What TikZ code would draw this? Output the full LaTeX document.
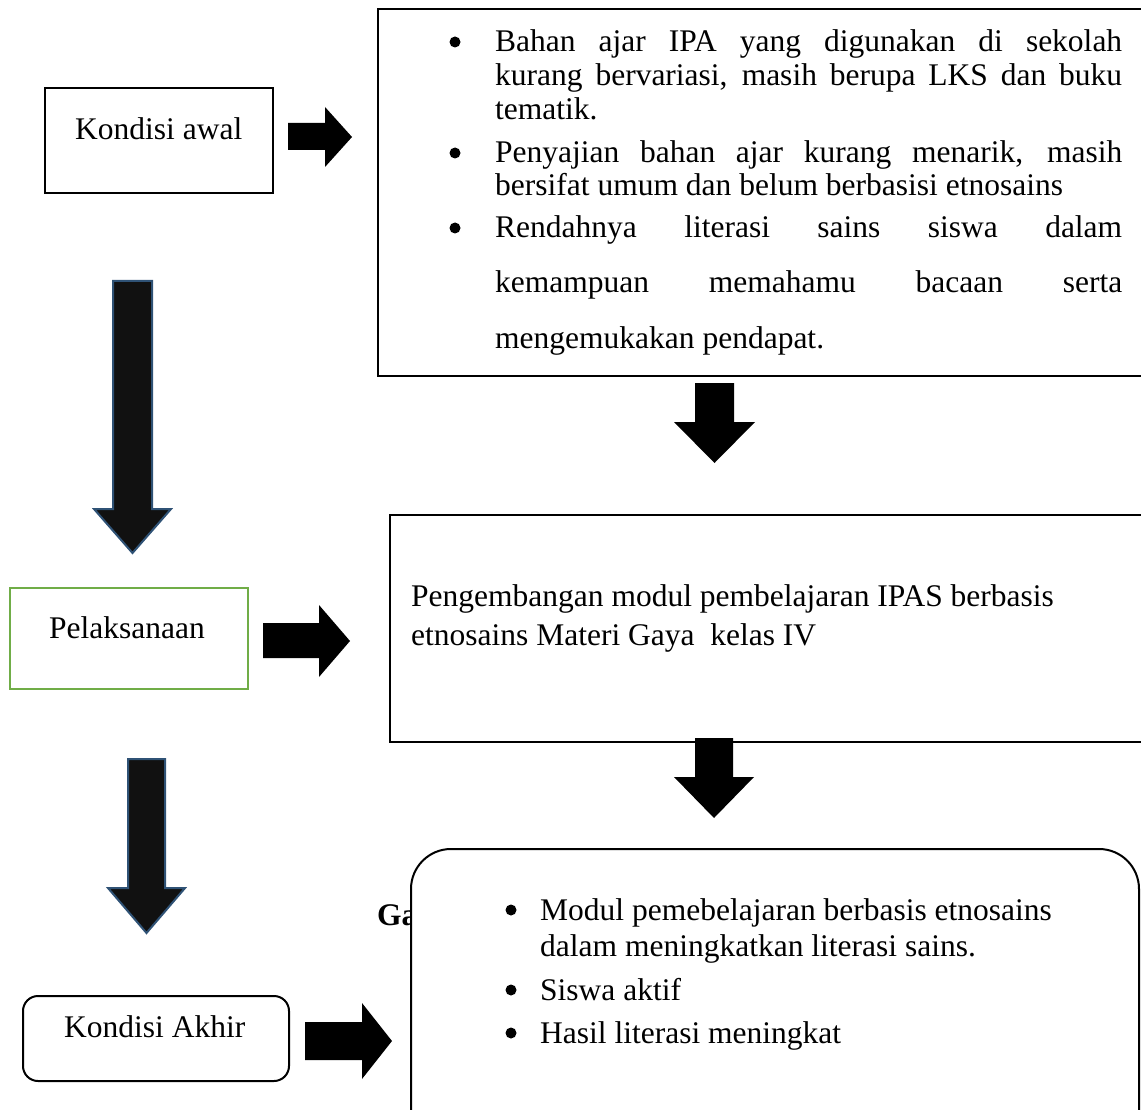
\documentclass[tikz,border=0pt]{standalone}
\usepackage{fontspec}
\setmainfont{Liberation Serif}
\definecolor{arrowfill}{HTML}{111111}
\definecolor{arrowedge}{HTML}{2F5275}
\definecolor{boxgreen}{HTML}{70AD47}
\newcommand\bigtxt{\fontsize{31.5}{34}\selectfont}
\tikzset{
  frame/.style={draw=black, line width=2pt, fill=white, inner sep=0pt, anchor=north west},
  txt/.style={font=\bigtxt, inner sep=0pt, anchor=base west},
  bul/.style={circle, fill=black, inner sep=0pt, minimum size=11pt},
  blockarrow/.style={fill=black},
  bigarrow/.style={fill=arrowfill, draw=arrowedge, line width=2pt, line join=miter},
}
\begin{document}
\begin{tikzpicture}[x=1pt,y=-1pt]
\useasboundingbox (0,0) rectangle (1141,1110);
\clip (0,0) rectangle (1141,1110);

% ---------- left column boxes ----------
\node[frame, minimum width=228pt, minimum height=105pt] (awal) at (44,87) {};
\node[txt] (awalt) at (75,140) {Kondisi awal};

\node[frame, draw=boxgreen, minimum width=238pt, minimum height=101pt] (pel) at (9,587) {};
\node[txt] (pelt) at (49,638) {Pelaksanaan};

\node[frame, rounded corners=15pt, minimum width=266pt, minimum height=85pt] (akhir) at (22,995) {};
\node[txt] (akhirt) at (64,1037) {Kondisi Akhir};

% ---------- top right box ----------
\node[frame, line width=2.4pt, minimum width=790pt, minimum height=367pt] (top) at (377,8) {};
\node[bul] (b1) at (455,42) {};
\node[txt] (t1) at (495,52) {\makebox[627pt][s]{Bahan ajar IPA yang digunakan di sekolah}};
\node[txt] (t2) at (495,86) {\makebox[627pt][s]{kurang bervariasi, masih berupa LKS dan buku}};
\node[txt] (t3) at (495,120) {tematik.};
\node[bul] (b2) at (455,153) {};
\node[txt] (t4) at (495,163) {\makebox[627pt][s]{Penyajian bahan ajar kurang menarik, masih}};
\node[txt] (t5) at (495,196) {bersifat umum dan belum berbasisi etnosains};
\node[bul] (b3) at (455,228) {};
\node[txt] (t6) at (495,238) {\makebox[627pt][s]{Rendahnya literasi sains siswa dalam}};
\node[txt] (t7) at (495,292) {\makebox[627pt][s]{kemampuan memahamu bacaan serta}};
\node[txt] (t8) at (495,348) {mengemukakan pendapat.};

% ---------- middle right box ----------
\node[frame, minimum width=780pt, minimum height=227pt] (mid) at (389,514) {};
\node[txt] (m1) at (411,606) {Pengembangan modul pembelajaran IPAS berbasis};
\node[txt] (m2) at (411,645) {etnosains Materi Gaya\ \ kelas IV};

% ---------- caption fragment behind bottom box ----------
\node[txt, font=\bigtxt\bfseries] (ga) at (377,925) {Ga};

% ---------- bottom right box ----------
\node[frame, rounded corners=40pt, minimum width=728pt, minimum height=320pt] (bot) at (410,848) {};
\node[bul] (c1) at (511,910) {};
\node[txt] (u1) at (540,920) {Modul pemebelajaran berbasis etnosains};
\node[txt] (u2) at (540,956) {dalam meningkatkan literasi sains.};
\node[bul] (c2) at (511,990) {};
\node[txt] (u3) at (540,1000) {Siswa aktif};
\node[bul] (c3) at (511,1033) {};
\node[txt] (u4) at (540,1043) {Hasil literasi meningkat};

% ---------- block arrows ----------
% right arrows
\fill[blockarrow] (288,123) -- (325,123) -- (325,107) -- (352,137) -- (325,167) -- (325,150) -- (288,150) -- cycle;
\fill[blockarrow] (263,623) -- (319,623) -- (319,605) -- (350,641) -- (319,677) -- (319,658) -- (263,658) -- cycle;
\fill[blockarrow] (305,1022) -- (362,1022) -- (362,1003) -- (392,1041) -- (362,1079) -- (362,1060) -- (305,1060) -- cycle;
% down arrows on the right
\fill[blockarrow] (695,383) -- (734,383) -- (734,422) -- (755,422) -- (714.5,463) -- (674,422) -- (695,422) -- cycle;
\fill[blockarrow] (695,738) -- (733,738) -- (733,777) -- (754,777) -- (714,818) -- (674,777) -- (695,777) -- cycle;
% long down arrows on the left
\draw[bigarrow] (113,281) -- (152,281) -- (152,509) -- (171,509) -- (132.5,553) -- (94,509) -- (113,509) -- cycle;
\draw[bigarrow] (128,759) -- (165,759) -- (165,888) -- (185,888) -- (146.5,933) -- (108,888) -- (128,888) -- cycle;
\end{tikzpicture}
\end{document}
